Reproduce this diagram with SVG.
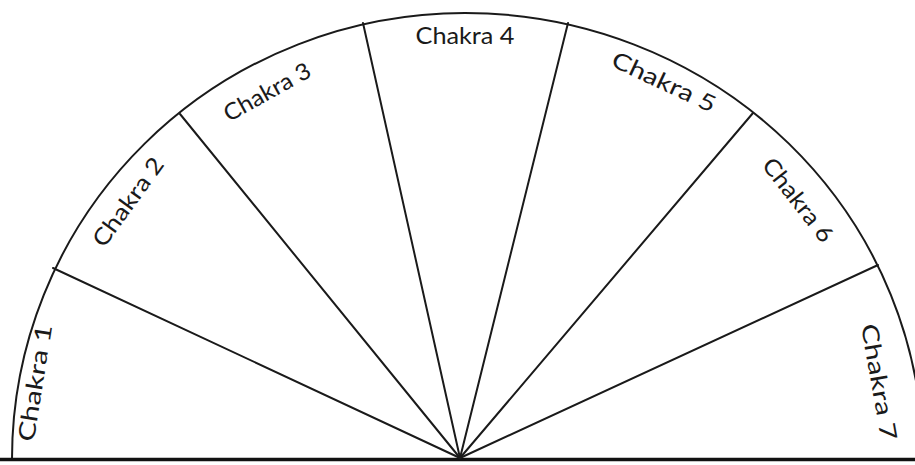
<svg xmlns="http://www.w3.org/2000/svg" width="915" height="465" viewBox="0 0 915 465">
<style>
.ln{fill:none;stroke:#1a1a1a;stroke-width:2;stroke-linecap:round}
.base{fill:none;stroke:#111;stroke-width:3.5}
.lb{font-family:Lato,"Open Sans","Liberation Sans",sans-serif;font-size:23px;fill:#1a1a1a;text-anchor:middle}
</style>
<rect width="915" height="465" fill="#fff"/>
<g id="outline">
<path class="ln" d="M 12 459 A 453 446 0 0 1 465 13 A 458 446 0 0 1 923 459"/>
<line class="base" x1="0" y1="459.5" x2="915" y2="459.5"/>
</g>
<g id="connectors">
<line class="ln" x1="460" y1="458" x2="53" y2="268"/>
<line class="ln" x1="460" y1="458" x2="180" y2="114"/>
<line class="ln" x1="460" y1="458" x2="363" y2="23"/>
<line class="ln" x1="460" y1="458" x2="568" y2="23"/>
<line class="ln" x1="460" y1="458" x2="753" y2="113"/>
<line class="ln" x1="460" y1="458" x2="878" y2="265"/>
</g>
<g id="chakra1"><text class="lb" transform="translate(35,383) rotate(-81)" y="8" textLength="118" lengthAdjust="spacingAndGlyphs">Chakra 1</text></g>
<g id="chakra2"><text class="lb" transform="translate(128,202) rotate(-54)" y="8" textLength="104" lengthAdjust="spacingAndGlyphs">Chakra 2</text></g>
<g id="chakra3"><text class="lb" transform="translate(267,92) rotate(-29)" y="8" textLength="96" lengthAdjust="spacingAndGlyphs">Chakra 3</text></g>
<g id="chakra4"><text class="lb" transform="translate(465,36)" y="8" textLength="99" lengthAdjust="spacingAndGlyphs">Chakra 4</text></g>
<g id="chakra5"><text class="lb" transform="translate(664,82) rotate(25)" y="8" textLength="112" lengthAdjust="spacingAndGlyphs">Chakra 5</text></g>
<g id="chakra6"><text class="lb" transform="translate(798,200) rotate(52)" y="8" textLength="100" lengthAdjust="spacingAndGlyphs">Chakra 6</text></g>
<g id="chakra7"><text class="lb" transform="translate(879,382) rotate(80)" y="8" textLength="118" lengthAdjust="spacingAndGlyphs">Chakra 7</text></g>
</svg>
